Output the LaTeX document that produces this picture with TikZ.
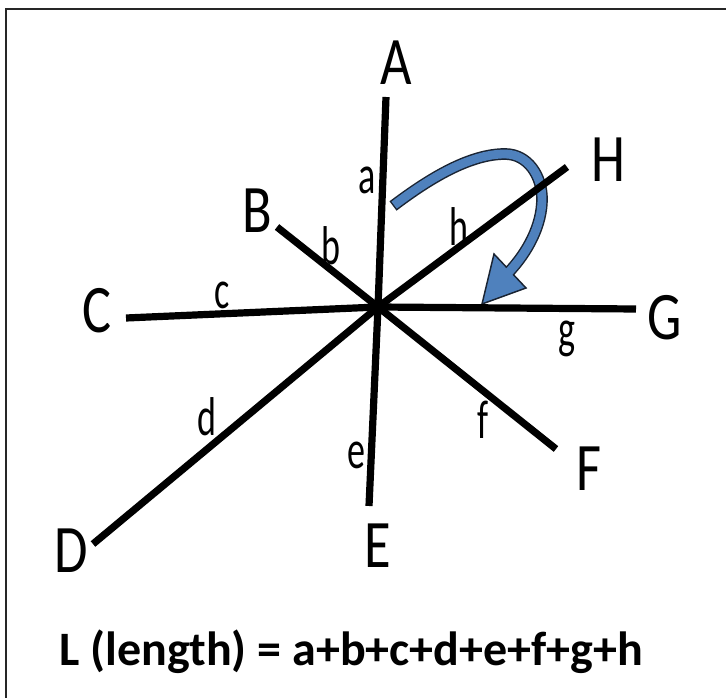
\documentclass[tikz,border=0pt]{standalone}
\usepackage{fontspec}
\setmainfont{Carlito}
\definecolor{arrblue}{HTML}{4F81BD}
\definecolor{arrline}{HTML}{1A2433}
\newcommand\CapLab[1]{\scalebox{0.8}[1]{#1}}
\newcommand\SmLab[1]{\scalebox{0.66}[1]{#1}}
\begin{document}
\begin{tikzpicture}[x=0.75pt,y=-0.75pt,
  spoke/.style={line width=5.4pt},
  caplabel/.style={font=\fontsize{51}{51}\selectfont, inner sep=0pt},
  smlabel/.style={font=\fontsize{41}{41}\selectfont, inner sep=0pt},
  frameline/.style={line width=1.5pt, draw=black!85},
  shaftout/.style={line width=8.8pt, draw=arrline},
  shaftin/.style={line width=6.6pt, draw=arrblue, shorten <=1.1pt},
  headstyle/.style={fill=arrblue, draw=arrline, line width=1.1pt, line join=miter},
  formula/.style={font=\fontsize{36}{36}\selectfont\bfseries, inner sep=0pt, anchor=base west}]
\useasboundingbox (0,0) rectangle (726,698);

% frame
\draw[frameline] (6,698) -- (6,9) -- (726,9);

% centre and spoke ends
\coordinate (O) at (378,307);
\coordinate (pA) at (386,97);
\coordinate (pB) at (277,227);
\coordinate (pC) at (126,318);
\coordinate (pD) at (93,544);
\coordinate (pE) at (369,506);
\coordinate (pF) at (556,449);
\coordinate (pG) at (636,309);
\coordinate (pH) at (567,167);

% curved arrow
\coordinate (t0) at (393,206);
\coordinate (t1) at (505,154);
\coordinate (t2) at (542,199);
\coordinate (hb) at (508,273);
\coordinate (w1) at (494,254);
\coordinate (w2) at (526,288);
\coordinate (tip) at (482,304);
\draw[shaftout] (t0) .. controls (430,178) and (470,154) .. (t1)
  .. controls (528,154) and (542,176) .. (t2)
  .. controls (542,225) and (528,252) .. (hb);
\draw[headstyle] (w1) -- (tip) -- (w2) -- cycle;
\draw[shaftin] (t0) .. controls (430,178) and (470,154) .. (t1)
  .. controls (528,154) and (542,176) .. (t2)
  .. controls (542,225) and (528,252) .. (hb);

% spokes
\foreach \p in {pA,pB,pC,pD,pE,pF,pG,pH}
  \draw[spoke] (O) -- (\p);

% end labels
\node[caplabel] (LA) at (396,63) {\CapLab{A}};
\node[caplabel] (LB) at (257,211) {\CapLab{B}};
\node[caplabel] (LC) at (97,311) {\CapLab{C}};
\node[caplabel] (LD) at (71,551) {\CapLab{D}};
\node[caplabel] (LE) at (378,546) {\CapLab{E}};
\node[caplabel] (LF) at (589,469) {\CapLab{F}};
\node[caplabel] (LG) at (665,318) {\CapLab{G}};
\node[caplabel] (LH) at (608,160) {\CapLab{H}};

% segment labels
\node[smlabel] (la) at (367,180) {\SmLab{a}};
\node[smlabel] (lb) at (331,246) {\SmLab{b}};
\node[smlabel] (lc) at (222,295) {\SmLab{c}};
\node[smlabel] (ld) at (207,417) {\SmLab{d}};
\node[smlabel] (le) at (356,455) {\SmLab{e}};
\node[smlabel] (lf) at (483,420) {\SmLab{f}};
\node[smlabel] (lg) at (567,339) {\SmLab{g}};
\node[smlabel] (lh) at (459,227) {\SmLab{h}};

% formula
\node[formula] (form) at (59,666) {L (length) = a+b+c+d+e+f+g+h};
\end{tikzpicture}
\end{document}
